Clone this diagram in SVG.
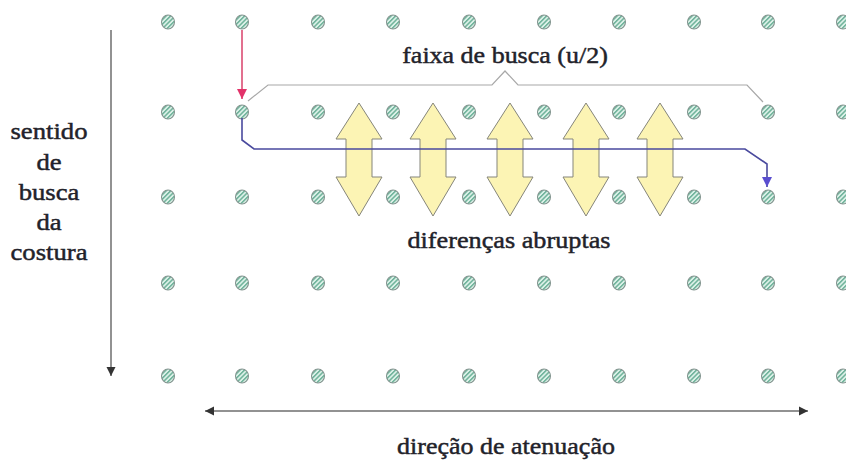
<svg xmlns="http://www.w3.org/2000/svg" xmlns:xlink="http://www.w3.org/1999/xlink" width="846" height="463" viewBox="0 0 846 463">
<style>
.t{font-family:"Liberation Serif","Times New Roman",serif;font-size:23px;fill:#22222a;stroke:#22222a;stroke-width:0.45;text-anchor:middle}
.yel{fill:#fcf4b4;stroke:#85857a;stroke-width:1}
.gray{fill:none;stroke:#6e6e6e;stroke-width:1.5}
.brk{fill:none;stroke:#a8a8a8;stroke-width:1.2}
.red{fill:none;stroke:#d8406a;stroke-width:1.5}
.blue{fill:none;stroke:#4a4a9e;stroke-width:1.6}
</style>
<defs>
<pattern id="hatch" width="3.2" height="3.2" patternUnits="userSpaceOnUse" patternTransform="rotate(45)">
<rect width="3.2" height="3.2" fill="#dcf1e8"/>
<rect width="1.5" height="3.2" fill="#6eb29a"/>
</pattern>
<g id="d"><ellipse cx="0" cy="0" rx="6.5" ry="7" fill="url(#hatch)" stroke="#849590" stroke-width="1.1"/></g>
<marker id="mg" viewBox="0 0 10 10" refX="10" refY="5" markerWidth="9" markerHeight="10" markerUnits="userSpaceOnUse" orient="auto-start-reverse"><path d="M0,0 L10,5 L0,10 Z" fill="#333"/></marker>
<marker id="mr" viewBox="0 0 10 10" refX="10" refY="5" markerWidth="10" markerHeight="11" markerUnits="userSpaceOnUse" orient="auto"><path d="M0,0 L10,5 L0,10 Z" fill="#e2336a"/></marker>
<marker id="mb" viewBox="0 0 10 10" refX="10" refY="5" markerWidth="10" markerHeight="12" markerUnits="userSpaceOnUse" orient="auto"><path d="M0,0 L10,5 L0,10 Z" fill="#5a4ed0"/></marker>
<path id="ya" d="M0,103 L23,139 L13,139 L13,177 L23,177 L0,216 L-23,177 L-13,177 L-13,139 L-23,139 Z"/>
</defs>
<rect width="846" height="463" fill="#ffffff"/>

<g id="dots">
<g id="r1c1"><use href="#d" x="168" y="22"/></g><g id="r1c2"><use href="#d" x="242" y="22"/></g><g id="r1c3"><use href="#d" x="318" y="22"/></g><g id="r1c4"><use href="#d" x="393" y="22"/></g><g id="r1c5"><use href="#d" x="469" y="22"/></g><g id="r1c6"><use href="#d" x="544" y="22"/></g><g id="r1c7"><use href="#d" x="619" y="22"/></g><g id="r1c8"><use href="#d" x="694" y="22"/></g><g id="r1c9"><use href="#d" x="768" y="22"/></g><g id="r1c10"><use href="#d" x="843" y="22"/></g>
<g id="r2c1"><use href="#d" x="168" y="112"/></g><g id="r2c2"><use href="#d" x="242" y="112"/></g><g id="r2c3"><use href="#d" x="318" y="112"/></g><g id="r2c4"><use href="#d" x="393" y="112"/></g><g id="r2c5"><use href="#d" x="469" y="112"/></g><g id="r2c6"><use href="#d" x="544" y="112"/></g><g id="r2c7"><use href="#d" x="619" y="112"/></g><g id="r2c8"><use href="#d" x="694" y="112"/></g><g id="r2c9"><use href="#d" x="768" y="112"/></g><g id="r2c10"><use href="#d" x="843" y="112"/></g>
<g id="r3c1"><use href="#d" x="168" y="197"/></g><g id="r3c2"><use href="#d" x="242" y="197"/></g><g id="r3c3"><use href="#d" x="318" y="197"/></g><g id="r3c4"><use href="#d" x="393" y="197"/></g><g id="r3c5"><use href="#d" x="469" y="197"/></g><g id="r3c6"><use href="#d" x="544" y="197"/></g><g id="r3c7"><use href="#d" x="619" y="197"/></g><g id="r3c8"><use href="#d" x="694" y="197"/></g><g id="r3c9"><use href="#d" x="768" y="197"/></g><g id="r3c10"><use href="#d" x="843" y="197"/></g>
<g id="r4c1"><use href="#d" x="168" y="283"/></g><g id="r4c2"><use href="#d" x="242" y="283"/></g><g id="r4c3"><use href="#d" x="318" y="283"/></g><g id="r4c4"><use href="#d" x="393" y="283"/></g><g id="r4c5"><use href="#d" x="469" y="283"/></g><g id="r4c6"><use href="#d" x="544" y="283"/></g><g id="r4c7"><use href="#d" x="619" y="283"/></g><g id="r4c8"><use href="#d" x="694" y="283"/></g><g id="r4c9"><use href="#d" x="768" y="283"/></g><g id="r4c10"><use href="#d" x="843" y="283"/></g>
<g id="r5c1"><use href="#d" x="168" y="376"/></g><g id="r5c2"><use href="#d" x="242" y="376"/></g><g id="r5c3"><use href="#d" x="318" y="376"/></g><g id="r5c4"><use href="#d" x="393" y="376"/></g><g id="r5c5"><use href="#d" x="469" y="376"/></g><g id="r5c6"><use href="#d" x="544" y="376"/></g><g id="r5c7"><use href="#d" x="619" y="376"/></g><g id="r5c8"><use href="#d" x="694" y="376"/></g><g id="r5c9"><use href="#d" x="768" y="376"/></g><g id="r5c10"><use href="#d" x="843" y="376"/></g>
</g>

<g id="abrupt-arrows">
<g id="ya1"><use href="#ya" x="359" class="yel"/></g>
<g id="ya2"><use href="#ya" x="433" class="yel"/></g>
<g id="ya3"><use href="#ya" x="510" class="yel"/></g>
<g id="ya4"><use href="#ya" x="586" class="yel"/></g>
<g id="ya5"><use href="#ya" x="660" class="yel"/></g>
</g>

<g id="connectors">
<path id="bracket" class="brk" d="M248,101 L268,85 L492,85 L505,71 L518,85 L747,85 L763,102"/>
<path id="red-arrow" class="red" d="M242,30 L242,99" marker-end="url(#mr)"/>
<path id="blue-path" class="blue" d="M242,118 L242,140 L254,149 L745,149 L767,164 L767,187" marker-end="url(#mb)"/>
<path id="seam-arrow" class="gray" d="M111,30 L111,376" marker-end="url(#mg)"/>
<path id="atten-arrow" class="gray" d="M205,411 L808,411" marker-start="url(#mg)" marker-end="url(#mg)"/>
</g>

<g id="labels">
<g id="lbl-faixa"><text class="t" transform="translate(505,63) scale(1.13,1)">faixa de busca (u/2)</text></g>
<g id="lbl-dif"><text class="t" transform="translate(509,248) scale(1.14,1)">diferenças abruptas</text></g>
<g id="lbl-dir"><text class="t" transform="translate(506,454) scale(1.13,1)">direção de atenuação</text></g>
<g id="lbl-sentido">
<text class="t" transform="translate(49,139) scale(1.16,1)">sentido</text>
<text class="t" transform="translate(49,170) scale(1.16,1)">de</text>
<text class="t" transform="translate(49,200) scale(1.16,1)">busca</text>
<text class="t" transform="translate(49,230) scale(1.16,1)">da</text>
<text class="t" transform="translate(49,260) scale(1.16,1)">costura</text>
</g>
</g>
</svg>
